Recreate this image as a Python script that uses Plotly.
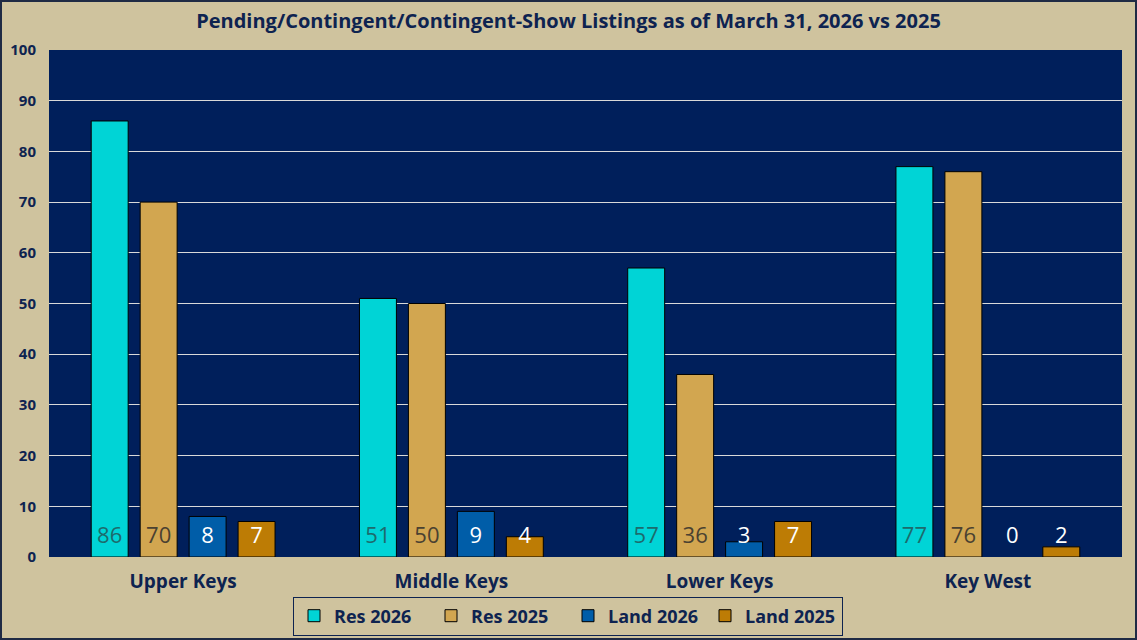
import plotly.graph_objects as go

categories = ["Upper Keys", "Middle Keys", "Lower Keys", "Key West"]
series_names = ["Res 2026", "Res 2025", "Land 2026", "Land 2025"]
res_2026 = [86, 51, 57, 77]
res_2025 = [70, 50, 36, 76]
land_2026 = [8, 9, 3, 0]
land_2025 = [7, 4, 7, 2]
y_ticks = [0, 10, 20, 30, 40, 50, 60, 70, 80, 90, 100]

series_values = [res_2026, res_2025, land_2026, land_2025]
bar_colors = ["#00D4D6", "#D2A650", "#005DA8", "#BD7C05"]
label_colors = ["#1D6B6C", "#4A4131", "#FFFFFF", "#FFFFFF"]

NAVY = "#0E2350"
PAPER = "#CFC39E"
PLOT = "#001F5B"
FONT = "Open Sans"
LABEL_Y = 3.9  # label level inside bars

fig = go.Figure()
for name, vals, col in zip(series_names, series_values, bar_colors):
    fig.add_trace(go.Bar(
        x=categories, y=vals, name=name,
        marker=dict(color=col, line=dict(color="#000000",
                                         width=[1 if v > 0 else 0 for v in vals])),
        hoverinfo="x+y+name",
    ))

for name, vals, lc in zip(series_names, series_values, label_colors):
    fig.add_trace(go.Scatter(
        x=categories, y=[LABEL_Y] * len(vals), mode="text",
        text=[str(v) for v in vals], textposition="middle center",
        textfont=dict(family=FONT, size=22, color=lc),
        showlegend=False, hoverinfo="skip", cliponaxis=False,
    ))

W, H = 1137, 640
ml, mr, mt, mb = 49, 15, 50, 83
pw = W - ml - mr
ph = H - mt - mb

fig.update_layout(
    width=W, height=H, autosize=False,
    margin=dict(l=ml, r=mr, t=mt, b=mb, pad=0, autoexpand=False),
    paper_bgcolor=PAPER, plot_bgcolor=PLOT,
    barmode="group", bargap=0.27, bargroupgap=0.245,
    scattermode="group", scattergap=0.27,
    title=dict(text="Pending/Contingent/Contingent-Show Listings as of March 31, 2026 vs 2025",
               x=0.5, xref="container", xanchor="center", y=1 - 21 / H, yanchor="middle",
               font=dict(family=FONT, size=20, color=NAVY, weight="bold")),
    font=dict(family=FONT, color=NAVY),
    legend=dict(orientation="h", x=(568 - ml) / pw, xanchor="center",
                y=-(616 - (mt + ph)) / ph, yanchor="middle",
                bgcolor="rgba(0,0,0,0)", bordercolor=NAVY, borderwidth=1,
                font=dict(family=FONT, size=18, color=NAVY, weight="bold"),
                itemwidth=30, traceorder="normal", entrywidth=92),
    xaxis=dict(showgrid=False, zeroline=False, showline=False, automargin=False,
               tickfont=dict(family=FONT, size=19, color=NAVY, weight="bold"),
               ticks="", ticklabelstandoff=11),
    yaxis=dict(range=[0, 100], tickvals=y_ticks, showgrid=True, gridcolor="#D9D9D9",
               gridwidth=1, zeroline=False, showline=False, ticks="", automargin=False,
               tickfont=dict(family=FONT, size=15, color=NAVY, weight="bold"),
               ticklabelstandoff=12),
    shapes=[dict(type="rect", xref="paper", yref="paper",
                 x0=-(ml - 1) / pw, x1=1 + (mr - 1) / pw,
                 y0=-(mb - 1) / ph, y1=1 + (mt - 1) / ph,
                 line=dict(color="#1F2A44", width=2), fillcolor="rgba(0,0,0,0)", layer="above")],
)

fig.write_html("out.html", config={"displayModeBar": False},
               post_script="document.body.style.margin='0';document.body.style.overflow='hidden';")
